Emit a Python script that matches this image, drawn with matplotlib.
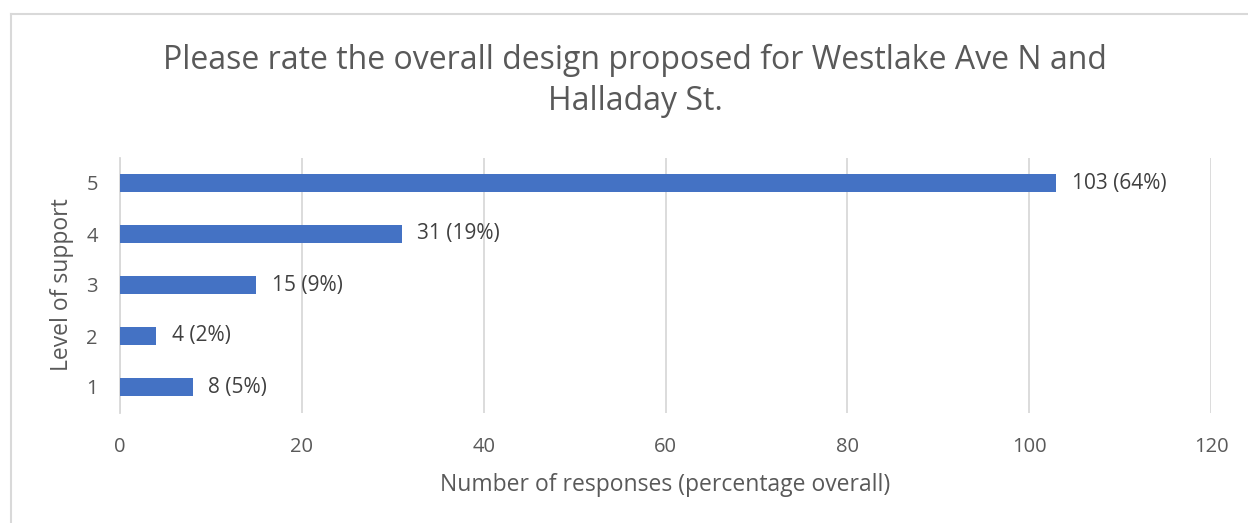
import matplotlib.pyplot as plt
from matplotlib.lines import Line2D

plt.rcParams['font.family'] = ['Open Sans', 'DejaVu Sans']

levels = ['1', '2', '3', '4', '5']
counts = [8, 4, 15, 31, 103]
percents = [5, 2, 9, 19, 64]
x_ticks = [0, 20, 40, 60, 80, 100, 120]

title = 'Please rate the overall design proposed for Westlake Ave N and\nHalladay St.'
xlabel = 'Number of responses (percentage overall)'
ylabel = 'Level of support'

TEXT = '#595959'
BAR = '#4472C4'
GRID = '#D9D9D9'

W, H = 1248, 523
fig = plt.figure(figsize=(W / 100, H / 100), dpi=100)
ax = fig.add_axes([120 / W, 1 - 412.5 / H, (1211 - 120) / W, (412.5 - 157.5) / H])

ypos = list(range(1, len(levels) + 1))
ax.barh(ypos, counts, height=0.36, color=BAR, zorder=3)
for y, c, p in zip(ypos, counts, percents):
    ax.annotate(f'{c} ({p}%)', xy=(c, y), xytext=(11, 0), textcoords='offset points',
                va='center', ha='left', fontsize=15, color='#404040')

ax.set_xlim(0, 120)
ax.set_ylim(0.5, len(levels) + 0.5)
ax.set_xticks(x_ticks)
ax.set_yticks(ypos)
ax.set_yticklabels(levels)
ax.tick_params(axis='both', length=0, labelsize=14.5, labelcolor=TEXT)
ax.tick_params(axis='x', pad=18)
ax.tick_params(axis='y', pad=16)
ax.grid(axis='x', color=GRID, linewidth=1.3, zorder=0)
for s in ['top', 'right', 'bottom']:
    ax.spines[s].set_visible(False)
ax.spines['left'].set_color(GRID)
ax.spines['left'].set_linewidth(1.3)

ax.set_xlabel(xlabel, fontsize=16.5, color=TEXT, labelpad=11)
ax.set_ylabel(ylabel, fontsize=16.5, color=TEXT, labelpad=9)

fig.text(0.509, 1 - 81 / H, title, ha='center', va='center', fontsize=23,
         color=TEXT, linespacing=1.3)

# chart frame
fig.add_artist(Line2D([10.5 / W, 1], [1 - 13.5 / H] * 2, transform=fig.transFigure,
                      color=GRID, linewidth=1.5))
fig.add_artist(Line2D([10.5 / W] * 2, [0, 1 - 13.5 / H], transform=fig.transFigure,
                      color=GRID, linewidth=1.5))

fig.savefig('out.png', dpi=100)
